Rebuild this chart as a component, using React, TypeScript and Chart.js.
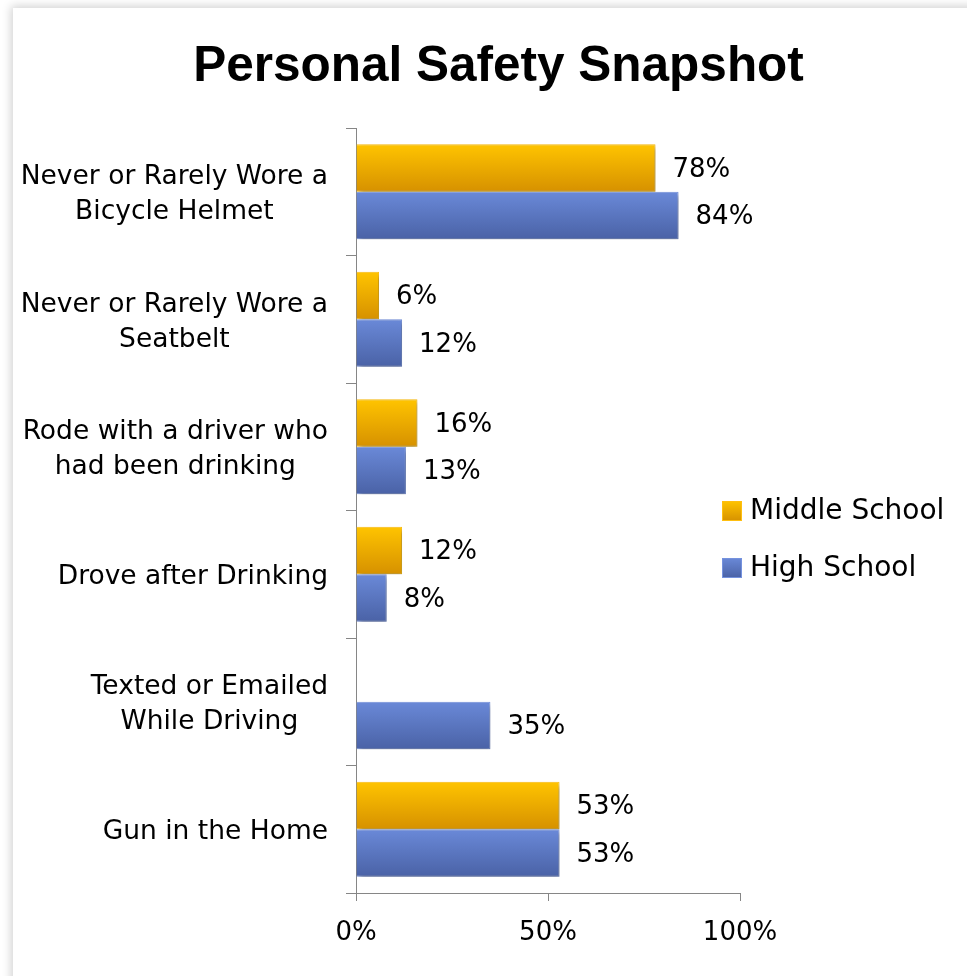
import React, { useEffect, useRef } from "react";
import { Chart, registerables } from "chart.js";

Chart.register(...registerables);

// ---- data ----
const categories: string[][] = [
  ["Never or Rarely Wore a", "Bicycle Helmet"],
  ["Never or Rarely Wore a", "Seatbelt"],
  ["Rode with a driver who", "had been drinking"],
  ["Drove after Drinking"],
  ["Texted or Emailed", "While Driving"],
  ["Gun in the Home"],
];
const middleSchool: (number | null)[] = [78, 6, 16, 12, null, 53];
const highSchool: (number | null)[] = [84, 12, 13, 8, 35, 53];
const seriesNames = ["Middle School", "High School"];
const xTickValues = [0, 50, 100];
const titleText = "Personal Safety Snapshot";

// ---- style ----
const FONT = "'DejaVu Sans', sans-serif";
const TITLE_FONT = "'Liberation Sans', Arial, sans-serif";
const AXIS = "#868686";
const CAT_PCT = 0.745;
const palettes = [
  { top: "#FFC400", bottom: "#D69100", border: "#FFBF10", flat: "#F2AE00" },
  { top: "#6A89D8", bottom: "#4A62A6", border: "#7592DE", flat: "#5A76C0" },
];

function barGradient(ctx: any) {
  const chart = ctx.chart;
  const pal = palettes[ctx.datasetIndex] || palettes[0];
  const area = chart.chartArea;
  if (!area || ctx.type !== "data") return pal.flat;
  const y = chart.scales.y;
  const center = y.getPixelForValue(ctx.dataIndex);
  const band = (area.bottom - area.top) / categories.length;
  const catH = band * CAT_PCT;
  const barH = catH / 2;
  const top = center - catH / 2 + ctx.datasetIndex * barH;
  const g = chart.ctx.createLinearGradient(0, top, 0, top + barH);
  g.addColorStop(0, pal.top);
  g.addColorStop(1, pal.bottom);
  return g;
}

const shadowPlugin = {
  id: "barShadow",
  beforeDatasetsDraw(chart: any) {
    const c = chart.ctx;
    c.save();
    c.shadowColor = "rgba(0,0,0,0.35)";
    c.shadowBlur = 5;
    c.shadowOffsetX = 2;
    c.shadowOffsetY = 3;
  },
  afterDatasetsDraw(chart: any) {
    chart.ctx.restore();
  },
};

const valueLabelPlugin = {
  id: "valueLabels",
  afterDatasetsDraw(chart: any) {
    const c = chart.ctx;
    c.save();
    c.font = `26px ${FONT}`;
    c.fillStyle = "#000";
    c.textAlign = "left";
    c.textBaseline = "middle";
    chart.data.datasets.forEach((ds: any, di: number) => {
      const meta = chart.getDatasetMeta(di);
      meta.data.forEach((el: any, i: number) => {
        const v = ds.data[i];
        if (v === null || v === undefined) return;
        c.fillText(`${v}%`, el.x + 17, el.y + 2);
      });
    });
    c.restore();
  },
};

const categoryLabelPlugin = {
  id: "categoryLabels",
  afterDraw(chart: any) {
    const c = chart.ctx;
    const y = chart.scales.y;
    c.save();
    c.font = `26.5px ${FONT}`;
    c.fillStyle = "#000";
    c.textAlign = "center";
    c.textBaseline = "middle";
    const right = y.right - 28;
    const lh = 35;
    (chart.data.labels as string[][]).forEach((lines, i) => {
      const w = Math.max(...lines.map((l) => c.measureText(l).width));
      const cx = right - w / 2;
      const cy = y.getPixelForValue(i) + 3;
      lines.forEach((l, k) => {
        c.fillText(l, cx, cy + (k - (lines.length - 1) / 2) * lh);
      });
    });
    c.restore();
  },
};

const legendPlugin = {
  id: "customLegend",
  afterDraw(chart: any) {
    const c = chart.ctx;
    const area = chart.chartArea;
    const x0 = area.right - 18;
    const midY = (area.top + area.bottom) / 2 + 29;
    const gap = 57;
    c.save();
    c.font = `28px ${FONT}`;
    c.textAlign = "left";
    c.textBaseline = "middle";
    chart.data.datasets.forEach((ds: any, di: number) => {
      const pal = palettes[di];
      const cy = midY + (di - 0.5) * gap;
      const g = c.createLinearGradient(0, cy - 10, 0, cy + 10);
      g.addColorStop(0, pal.top);
      g.addColorStop(1, pal.bottom);
      c.fillStyle = g;
      c.fillRect(x0, cy - 10, 20, 20);
      c.strokeStyle = pal.border;
      c.lineWidth = 1;
      c.strokeRect(x0 + 0.5, cy - 9.5, 19, 19);
      c.fillStyle = "#000";
      c.fillText(ds.label, x0 + 28, cy + 1);
    });
    c.restore();
  },
};

function ChartView() {
  const ref = useRef<HTMLCanvasElement | null>(null);
  useEffect(() => {
    if (!ref.current) return;
    const chart = new Chart(ref.current, {
      type: "bar",
      data: {
        labels: categories as any,
        datasets: [
          {
            label: seriesNames[0],
            data: middleSchool,
            backgroundColor: barGradient,
            borderColor: palettes[0].border,
            borderWidth: 1,
            categoryPercentage: CAT_PCT,
            barPercentage: 1,
          },
          {
            label: seriesNames[1],
            data: highSchool,
            backgroundColor: barGradient,
            borderColor: palettes[1].border,
            borderWidth: 1,
            categoryPercentage: CAT_PCT,
            barPercentage: 1,
          },
        ],
      },
      options: {
        indexAxis: "y",
        animation: false,
        responsive: false,
        maintainAspectRatio: false,
        layout: { padding: { left: 17, right: 0, top: 0, bottom: 0 } },
        plugins: {
          legend: { display: false },
          tooltip: { enabled: false },
          title: {
            display: true,
            text: titleText,
            color: "#000",
            font: { family: TITLE_FONT, size: 49.5, weight: "bold" },
            padding: { top: 29.5, bottom: 31.1 },
          },
        },
        scales: {
          x: {
            min: 0,
            max: 100,
            afterBuildTicks: (s: any) => {
              s.ticks = xTickValues.map((v) => ({ value: v }));
            },
            afterFit: (s: any) => {
              s.height = 83;
            },
            grid: {
              display: true,
              drawOnChartArea: false,
              drawTicks: true,
              tickLength: 8,
              color: AXIS,
            },
            border: { display: true, color: AXIS, width: 1 },
            ticks: {
              color: "#000",
              padding: 17,
              font: { family: FONT, size: 26 },
              callback: (v: any) => `${v}%`,
            },
          },
          y: {
            afterFit: (s: any) => {
              s.width = 326;
            },
            grid: {
              display: true,
              drawOnChartArea: false,
              drawTicks: true,
              tickLength: 10,
              color: AXIS,
            },
            border: { display: true, color: AXIS, width: 1 },
            ticks: { display: false },
          },
          legendSpace: {
            type: "linear",
            position: "right",
            min: 0,
            max: 1,
            afterFit: (s: any) => {
              s.width = 227;
            },
            grid: { display: false },
            border: { display: false },
            ticks: { display: false },
          },
        },
      },
      plugins: [shadowPlugin, valueLabelPlugin, categoryLabelPlugin, legendPlugin],
    } as any);
    return () => chart.destroy();
  }, []);
  return <canvas ref={ref} width={954} height={968} style={{ display: "block" }} />;
}

export default function App() {
  return (
    <div
      style={{
        position: "fixed",
        inset: 0,
        overflow: "hidden",
        background: "#fff",
      }}
    >
      <div
        style={{
          position: "absolute",
          left: 13,
          top: 8,
          width: 1000,
          height: 1000,
          background: "#fff",
          boxShadow: "0 0 9px 2px rgba(0,0,0,0.18)",
        }}
      >
        <ChartView />
      </div>
    </div>
  );
}
